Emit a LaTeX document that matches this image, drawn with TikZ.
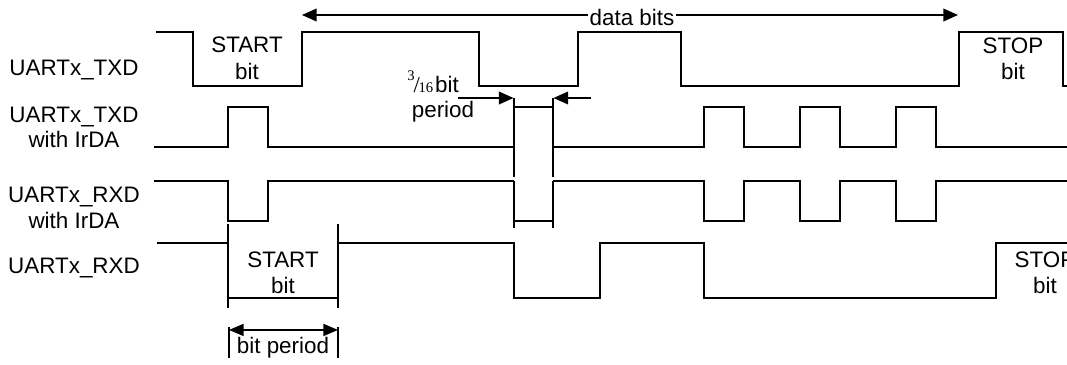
\documentclass[tikz,border=0pt]{standalone}
\usepackage{fontspec}
\setmainfont{Liberation Sans}
\newfontfamily\serifF{Liberation Serif}
\usetikzlibrary{arrows.meta}
\begin{document}
\begin{tikzpicture}[x=0.75pt,y=-0.75pt,
  wave/.style={line width=1.6pt, line cap=butt},
  lbl/.style={font=\fontsize{16.8}{19}\selectfont, inner sep=0pt, anchor=base},
  dim/.style={line width=1.3pt, -{Triangle[length=11pt,width=9.5pt]}},
  bar/.style={line width=1.3pt},
]
\useasboundingbox (0,0) rectangle (1067,364);

% labels
\node[lbl] (l1) at (74,75) {UARTx\_TXD};
\node[lbl] (l2a) at (74,122) {UARTx\_TXD};
\node[lbl] (l2b) at (74,147) {with IrDA};
\node[lbl] (l3a) at (74,202) {UARTx\_RXD};
\node[lbl] (l3b) at (74,228) {with IrDA};
\node[lbl] (l4) at (74,273) {UARTx\_RXD};

% row 1: UARTx_TXD
\draw[wave] (156,32) -| (193,86) -| (302,32) -| (479,86) -| (578,32) -| (681,86) -| (959,32) -| (1063,86) -- (1075,86);
\node[lbl] (s1a) at (247,52) {START};
\node[lbl] (s1b) at (247,79) {bit};
\node[lbl] (p1a) at (1013,53) {STOP};
\node[lbl] (p1b) at (1013,79) {bit};

% data bits arrow
\coordinate (dl) at (302,15);
\coordinate (dr) at (958,15);
\node[lbl, fill=white, inner xsep=1pt, inner ysep=2pt] (db) at (632,25) {data bits};
\draw[dim] (db.west |- dl) -- (dl);
\draw[dim] (db.east |- dr) -- (dr);

% row 2: TXD with IrDA
\draw[wave] (154,147) -| (228,107) -| (268,147) -- (514,147);
\draw[wave] (514,98) -- (514,177);
\draw[wave] (553,98) -- (553,177);
\draw[wave] (514,107) -- (553,107);
\draw[wave] (553,147) -| (704,107) -| (744,147) -| (800,107) -| (840,147) -| (896,107) -| (936,147) -- (1075,147);

% 3/16 bit period
\coordinate (ta) at (458,98);
\coordinate (tb) at (513.5,98);
\coordinate (tc) at (591,98);
\coordinate (td) at (553.5,98);
\draw[dim] (ta) -- (tb);
\draw[dim] (tc) -- (td);
\node[lbl, anchor=base west] (frac) at (407,92) {{\serifF\raisebox{0.5em}{\fontsize{11}{11}\selectfont 3}\kern-0.04em{\fontsize{17}{17}\selectfont /}\kern-0.06em{\fontsize{11}{11}\selectfont 16}}\kern0.08em bit};
\node[lbl] (per) at (443,117) {period};

% row 3: RXD with IrDA
\draw[wave] (154,181) -| (228,221) -| (268,181) -- (514,181);
\draw[wave] (514,181) -- (514,228);
\draw[wave] (553,181) -- (553,228);
\draw[wave] (514,221) -- (553,221);
\draw[wave] (553,181) -| (704,221) -| (744,181) -| (800,221) -| (840,181) -| (896,221) -| (936,181) -- (1075,181);

% row 4: UARTx_RXD
\draw[wave] (157,243) -- (228,243);
\draw[wave] (228,224) -- (228,308);
\draw[wave] (338,224) -- (338,308);
\draw[wave] (228,298) -- (338,298);
\draw[wave] (338,243) -| (514,298) -| (600,243) -| (704,298) -| (996,243) -- (1075,243);
\node[lbl] (s4a) at (283,267) {START};
\node[lbl] (s4b) at (283,293) {bit};
\node[lbl] (p4a) at (1045,267) {STOP};
\node[lbl] (p4b) at (1045,293) {bit};

% bit period
\coordinate (ba) at (229,327);
\coordinate (bb) at (338,327);
\draw[bar] (ba) -- ++(0,31);
\draw[bar] (bb) -- ++(0,31);
\draw[line width=1.3pt, {Triangle[length=11pt,width=9pt]}-{Triangle[length=11pt,width=9pt]}] ([yshift=-2.2pt]ba) -- ([yshift=-2.2pt]bb);
\node[lbl] (bp) at (283,353) {bit period};
\end{tikzpicture}
\end{document}
